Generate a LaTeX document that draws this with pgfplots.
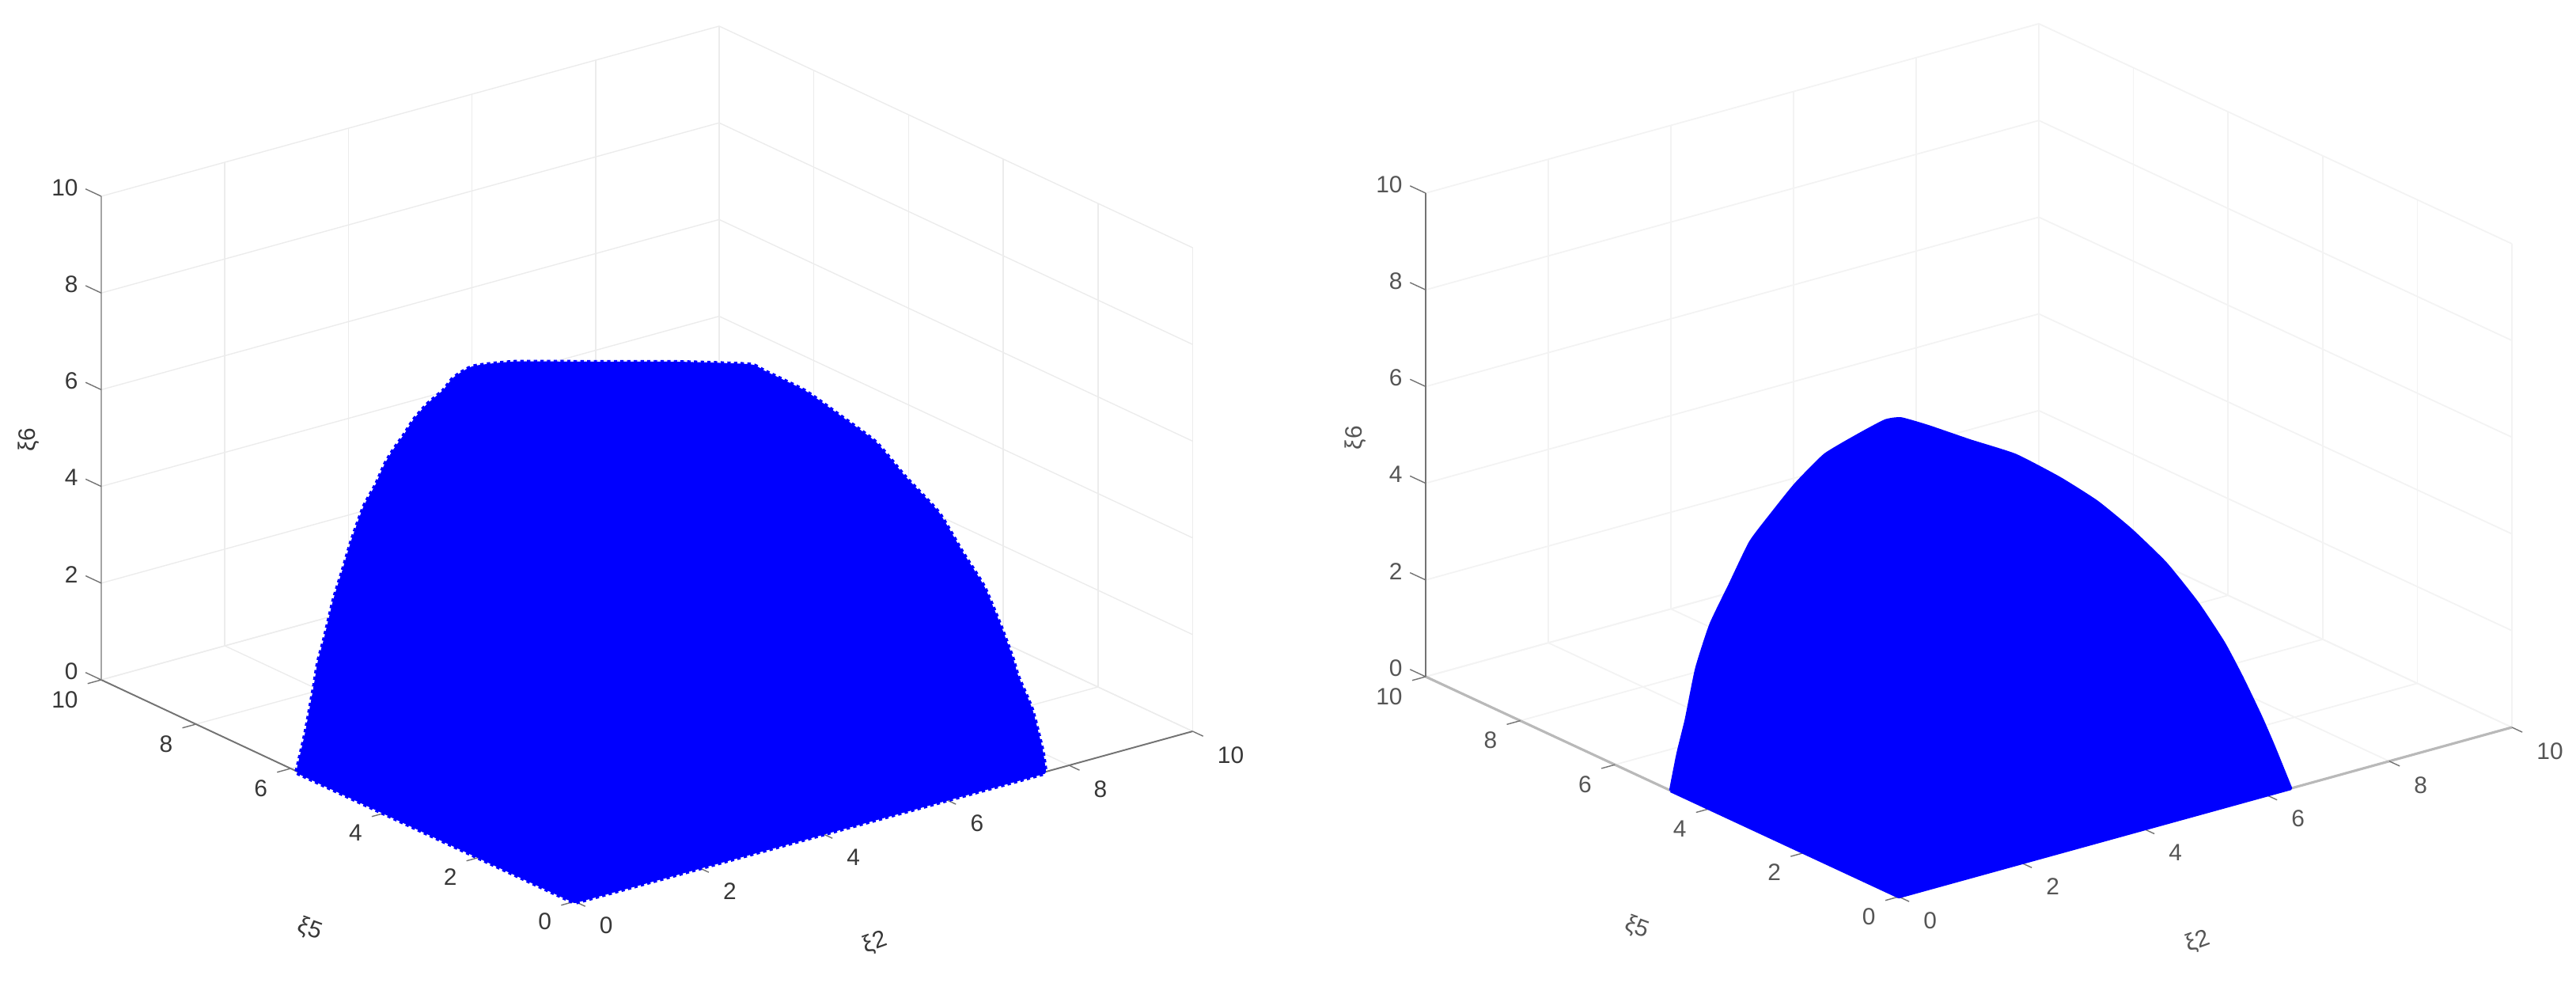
\documentclass[border=0pt]{standalone}
\usepackage{fontspec}
\setmainfont{Liberation Sans}
\usepackage{pgfplots}
\usepackage{pgfplotstable}
\pgfplotsset{compat=1.18}

\definecolor{gridgray}{RGB}{236,236,236}
\definecolor{gridlight}{RGB}{243,243,243}
\definecolor{textgray}{RGB}{55,55,55}
\definecolor{textlight}{RGB}{85,85,85}
\definecolor{matblue}{RGB}{0,0,255}
\definecolor{axisdark}{RGB}{115,115,115}
\definecolor{axismid}{RGB}{165,165,165}
\definecolor{axislight}{RGB}{185,185,185}

% upper outline of the left cloud
\pgfplotstableread{
x y z
0 5.85 0
0.089 5.78 0.79
0.177 5.71 1.77
0.217 5.68 2.26
0.282 5.63 2.75
0.378 5.56 3.55
0.467 5.49 4.14
0.564 5.42 4.78
0.684 5.32 5.48
0.805 5.23 5.92
0.902 5.16 6.35
0.982 5.09 6.64
1.087 5.01 6.94
1.192 4.93 7.27
1.328 4.83 7.58
1.489 4.70 7.87
1.594 4.62 8.13
1.787 4.47 8.36
2.214 4.15 8.45
3.051 3.50 8.45
3.881 2.86 8.45
4.597 2.31 8.40
4.742 2.20 8.27
5.153 1.88 7.86
5.467 1.64 7.41
5.869 1.33 6.81
6.167 1.10 6.10
6.513 0.837 5.35
6.755 0.651 4.53
6.972 0.483 3.83
7.133 0.359 3.06
7.262 0.260 2.36
7.318 0.217 1.98
7.463 0.105 1.28
7.568 0.025 0.44
7.6 0 0
}\arcleft

% upper outline of the right cloud
\pgfplotstableread{
x y z
0 4.82 0
0.073 4.76 0.77
0.163 4.70 1.47
0.269 4.62 2.52
0.416 4.51 3.43
0.612 4.36 4.25
0.824 4.20 5.13
1.045 4.03 5.72
1.289 3.85 6.32
1.591 3.62 6.93
1.942 3.35 7.35
2.212 3.15 7.63
2.375 3.03 7.67
2.652 2.82 7.51
3.085 2.49 7.21
3.550 2.14 6.91
4.007 1.80 6.43
4.391 1.51 5.94
4.741 1.24 5.36
5.101 0.973 4.66
5.427 0.726 3.84
5.696 0.523 3.02
5.884 0.382 2.31
6.080 0.234 1.49
6.211 0.135 0.885
6.39 0 0
}\arcright

% visible axis lines and MATLAB style ticks: #1 floor axes, #2 vertical axis
\newcommand{\cubeaxes}[2]{%
  \draw[#1] (axis cs:0,0,0) -- (axis cs:10,0,0);
  \draw[#1] (axis cs:0,0,0) -- (axis cs:0,10,0);
  \draw[#2] (axis cs:0,10,0) -- (axis cs:0,10,10);
  \draw[axisdark, line width=0.4pt]
    (axis cs:0,0,0) -- (axis cs:0,-0.22,0)
    (axis cs:2,0,0) -- (axis cs:2,-0.22,0)
    (axis cs:4,0,0) -- (axis cs:4,-0.22,0)
    (axis cs:6,0,0) -- (axis cs:6,-0.22,0)
    (axis cs:8,0,0) -- (axis cs:8,-0.22,0)
    (axis cs:10,0,0) -- (axis cs:10,-0.22,0)
    (axis cs:0,0,0) -- (axis cs:-0.22,0,0)
    (axis cs:0,2,0) -- (axis cs:-0.22,2,0)
    (axis cs:0,4,0) -- (axis cs:-0.22,4,0)
    (axis cs:0,6,0) -- (axis cs:-0.22,6,0)
    (axis cs:0,8,0) -- (axis cs:-0.22,8,0)
    (axis cs:0,10,0) -- (axis cs:-0.22,10,0)
    (axis cs:0,10,0) -- (axis cs:0,10.33,0)
    (axis cs:0,10,2) -- (axis cs:0,10.33,2)
    (axis cs:0,10,4) -- (axis cs:0,10.33,4)
    (axis cs:0,10,6) -- (axis cs:0,10.33,6)
    (axis cs:0,10,8) -- (axis cs:0,10.33,8)
    (axis cs:0,10,10) -- (axis cs:0,10.33,10);
}

\pgfplotsset{
  cube/.style={
    anchor=origin,
    clip=false,
    xmin=0, xmax=10, ymin=0, ymax=10, zmin=0, zmax=10,
    xtick={0,2,4,6,8,10}, ytick={0,2,4,6,8,10}, ztick={0,2,4,6,8,10},
    grid=major,
    axis line style={draw=none},
    major tick length=0pt,
    /pgf/number format/assume math mode=true,
    tick label style={font=\fontsize{8.5}{10}\selectfont},
    xticklabel style={anchor=west, xshift=0.19cm, yshift=-0.30cm},
    yticklabel style={anchor=east, xshift=-0.17cm, yshift=-0.25cm},
    zticklabel style={anchor=east, xshift=-0.17cm, yshift=0.11cm},
    label style={font=\fontsize{8.5}{10}\selectfont, anchor=center},
  },
}

\begin{document}
\begin{tikzpicture}
\path[use as bounding box] (0cm,0cm) rectangle (32.56cm,12.6cm);

\begin{axis}[cube,
  at={(7.265cm,1.21cm)},
  x={(0.781cm,0.215cm)}, y={(-0.5985cm,0.28cm)}, z={(0cm,0.611cm)},
  grid style={gridgray, line width=0.4pt},
  tick label style={text=textgray}, label style={text=textgray},
  xlabel={ξ2}, ylabel={ξ5}, zlabel={ξ6},
  xlabel style={at={(axis cs:2.16,-3.52,0)}, rotate=20},
  ylabel style={at={(axis cs:-3.30,1.29,0)}, rotate=-20},
  zlabel style={at={(axis cs:0,11.53,4.26)}},
]
\cubeaxes{axisdark, line width=0.55pt}{axismid, line width=0.8pt}
\addplot3[matblue, fill=matblue, line width=1.2pt, line join=round] coordinates {(0,5.85,0) (0,0,0) (7.6,0,0) (0,5.85,0)};
\addplot3[matblue, fill=matblue, line width=1.2pt, smooth, tension=0.3] table[x=x,y=y,z=z] {\arcleft};
\addplot3[matblue, line width=2.4pt, dash pattern=on 1.2pt off 1.2pt, smooth, tension=0.3] table[x=x,y=y,z=z] {\arcleft};
\addplot3[matblue, line width=2.4pt, dash pattern=on 1.2pt off 1.2pt] coordinates {(0,5.85,0) (0,0,0) (7.6,0,0)};
\end{axis}

\begin{axis}[cube,
  at={(24.00cm,1.27cm)},
  x={(0.775cm,0.214cm)}, y={(-0.598cm,0.278cm)}, z={(0cm,0.611cm)},
  grid style={gridlight, line width=0.5pt},
  tick label style={text=textlight}, label style={text=textlight},
  xlabel={ξ2}, ylabel={ξ5}, zlabel={ξ6},
  xlabel style={at={(axis cs:2.065,-3.64,0)}, rotate=20},
  ylabel style={at={(axis cs:-3.36,1.18,0)}, rotate=-20},
  zlabel style={at={(axis cs:0,11.49,4.26)}},
]
\cubeaxes{axislight, line width=0.9pt}{axisdark, line width=0.7pt}
\addplot3[matblue, fill=matblue, line width=1.2pt, line join=round] coordinates {(0,4.82,0) (0,0,0) (6.39,0,0) (0,4.82,0)};
\addplot3[matblue, fill=matblue, line width=1.2pt, smooth, tension=0.3] table[x=x,y=y,z=z] {\arcright};
\end{axis}
\end{tikzpicture}
\end{document}
